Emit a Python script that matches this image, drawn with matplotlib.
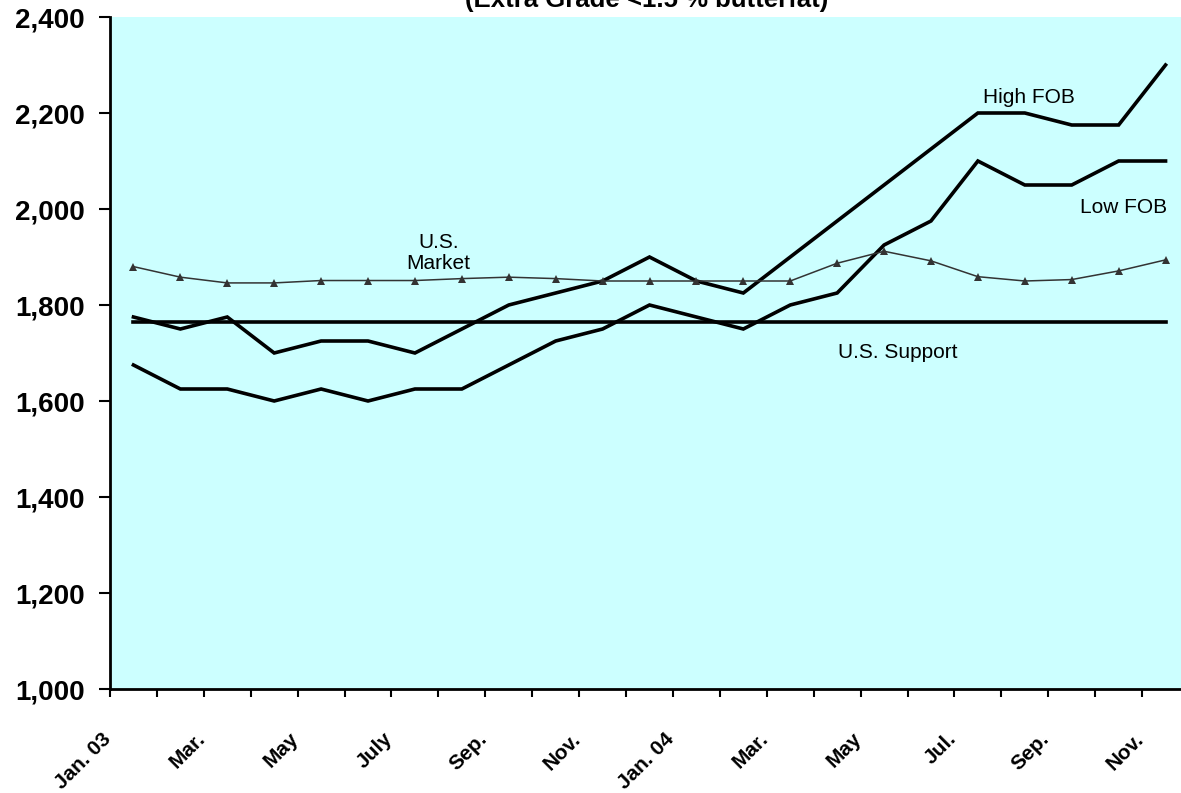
import matplotlib
matplotlib.use("Agg")
import matplotlib.pyplot as plt
import matplotlib.transforms as mtransforms
import numpy as np


# monthly prices, Jan 2003 .. Nov 2004
months = ["Jan. 03", "Feb.", "Mar.", "Apr.", "May", "June", "July", "Aug.",
          "Sep.", "Oct.", "Nov.", "Dec.", "Jan. 04", "Feb.", "Mar.", "Apr.",
          "May", "June", "Jul.", "Aug.", "Sep.", "Oct.", "Nov."]

high_fob = [1775, 1750, 1775, 1700, 1725, 1725, 1700, 1750, 1800, 1825, 1850, 1900,
            1850, 1825, 1900, 1975, 2050, 2125, 2200, 2200, 2175, 2175, 2300]

low_fob = [1675, 1625, 1625, 1600, 1625, 1600, 1625, 1625, 1675, 1725, 1750, 1800,
           1775, 1750, 1800, 1825, 1925, 1975, 2100, 2050, 2050, 2100, 2100]

us_market = [1880, 1858, 1846, 1846, 1851, 1851, 1851, 1855, 1858, 1855, 1850, 1850,
             1850, 1850, 1850, 1887, 1912, 1892, 1859, 1850, 1853, 1871, 1894]

us_support = 1765

yticks = [1000, 1200, 1400, 1600, 1800, 2000, 2200, 2400]

W, H = 1181, 793
fig = plt.figure(figsize=(W / 100, H / 100), dpi=100)
ax = fig.add_axes([110 / W, 1 - 689 / H, 1079 / W, 672 / H])
ax.set_facecolor("#ccffff")

x = np.arange(len(months))

ax.plot(x, high_fob, color="black", lw=2.6, solid_joinstyle="miter")
ax.plot(x, low_fob, color="black", lw=2.6, solid_joinstyle="miter")
ax.plot(x, np.full(len(x), us_support), color="black", lw=2.6)
ax.plot(x, us_market, color="#333333", lw=1.1, marker="^", ms=5.5, mew=0)

ax.set_xlim(-0.5, len(months) - 0.5)
ax.set_ylim(1000, 2400)

ax.set_yticks(yticks)
ax.set_yticklabels([f"{v:,}" for v in yticks], fontsize=20, fontweight="bold",
                   family="Liberation Sans")
ax.tick_params(axis="y", length=8, width=1.5, pad=10)

ticks = np.arange(-0.5, len(months) + 0.5)
labels = [months[i] if i % 2 == 0 and i < len(months) else "" for i in range(len(ticks))]
ax.set_xticks(ticks)
ax.set_xticklabels(labels, rotation=45, ha="right", fontsize=15, fontweight="bold",
                   family="Liberation Sans")
ax.tick_params(axis="x", length=6, width=1.5, pad=23)
shift = mtransforms.ScaledTranslation(5 / 100, 0, fig.dpi_scale_trans)
for lab in ax.get_xticklabels():
    lab.set_transform(lab.get_transform() + shift)

for s in ["top", "right"]:
    ax.spines[s].set_visible(False)
for s in ["left", "bottom"]:
    ax.spines[s].set_linewidth(2)

txt = dict(fontsize=15, family="Liberation Sans", ha="center", va="center")
ax.text(19.08, 2233, "High FOB", **txt)
ax.text(21.1, 2004, "Low FOB", **txt)
ax.text(16.3, 1702, "U.S. Support", **txt)
ax.text(6.5, 1909, "U.S.\nMarket", linespacing=1.15, **txt)

# title sits partly above the canvas, as in the source image
fig.text(647 / W, 1 - 7.5 / H, "(Extra Grade <1.5 % butterfat)", ha="center",
         va="baseline", fontsize=18.5, fontweight="bold", family="Liberation Sans")

fig.savefig("out.png", dpi=100)
